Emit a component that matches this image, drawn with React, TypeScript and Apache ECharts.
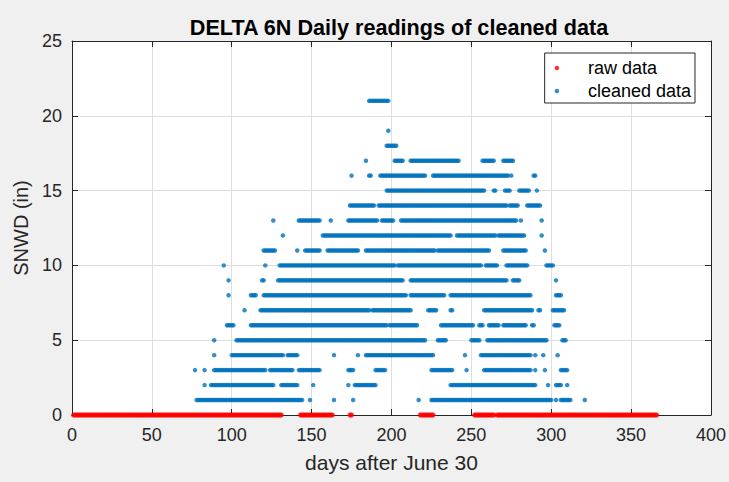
import React, { useEffect, useRef } from "react";
import * as echarts from "echarts";

// Cleaned snow depth readings, read as runs of consecutive days at each depth level:
// [depth (in), first day, last day]
const cleanedRuns: [number, number, number][] = [
  [21, 186, 198],
  [19, 198, 198],
  [18, 197, 203],
  [17, 184, 184], [17, 202, 207], [17, 212, 242], [17, 257, 264], [17, 270, 276],
  [16, 175, 175], [16, 186, 187], [16, 193, 221], [16, 226, 273], [16, 275, 275], [16, 289, 290],
  [15, 197, 258], [15, 264, 265], [15, 271, 274], [15, 280, 286], [15, 291, 291],
  [14, 174, 189], [14, 192, 272], [14, 274, 279], [14, 285, 293],
  [13, 126, 126], [13, 142, 155], [13, 162, 162], [13, 173, 191], [13, 194, 201], [13, 206, 278], [13, 281, 281], [13, 294, 294],
  [12, 132, 132], [12, 157, 237], [12, 241, 265], [12, 267, 283], [12, 294, 294],
  [11, 120, 127], [11, 141, 141], [11, 146, 155], [11, 160, 179], [11, 184, 227], [11, 229, 261], [11, 270, 284], [11, 296, 296],
  [10, 95, 95], [10, 121, 121], [10, 130, 202], [10, 204, 256], [10, 259, 266], [10, 272, 285], [10, 297, 301],
  [9, 98, 98], [9, 119, 120], [9, 129, 207], [9, 212, 272], [9, 276, 280], [9, 303, 303],
  [8, 98, 98], [8, 112, 115], [8, 120, 209], [8, 212, 233], [8, 237, 287], [8, 303, 306],
  [7, 108, 108], [7, 118, 186], [7, 188, 212], [7, 223, 228], [7, 237, 238], [7, 258, 288], [7, 292, 293], [7, 301, 308],
  [6, 97, 101], [6, 112, 197], [6, 199, 216], [6, 231, 251], [6, 255, 257], [6, 261, 267], [6, 270, 284], [6, 288, 289], [6, 302, 305],
  [5, 89, 89], [5, 103, 221], [5, 229, 234], [5, 250, 255], [5, 260, 297], [5, 307, 309],
  [4, 89, 89], [4, 100, 132], [4, 135, 141], [4, 164, 164], [4, 179, 179], [4, 184, 226], [4, 246, 246], [4, 256, 287], [4, 290, 290], [4, 295, 295], [4, 304, 304],
  [3, 77, 77], [3, 83, 83], [3, 89, 121], [3, 124, 138], [3, 142, 155], [3, 173, 176], [3, 190, 196], [3, 225, 238], [3, 247, 247], [3, 258, 287], [3, 290, 290], [3, 296, 296], [3, 306, 310],
  [2, 83, 83], [2, 87, 126], [2, 131, 141], [2, 151, 151], [2, 173, 173], [2, 177, 190], [2, 237, 290], [2, 298, 298], [2, 303, 306], [2, 310, 310],
  [1, 78, 144], [1, 149, 149], [1, 164, 164], [1, 176, 176], [1, 217, 217], [1, 225, 300], [1, 303, 303], [1, 306, 312], [1, 321, 321],
];

// Raw readings visible at zero depth: [depth, first day, last day]
const rawZeroRuns: [number, number, number][] = [
  [0, 1, 131], [0, 143, 163], [0, 174, 175], [0, 218, 226], [0, 252, 264], [0, 266, 366],
];

const seriesNames = ["raw data", "cleaned data"];
const titleText = "DELTA 6N Daily readings of cleaned data";
const xName = "days after June 30";
const yName = "SNWD (in)";

function runsToPoints(runs: [number, number, number][]): [number, number][] {
  const pts: [number, number][] = [];
  for (const [level, from, to] of runs) {
    for (let d = from; d <= to; d++) pts.push([d, level]);
  }
  return pts;
}

const FONT = "'Liberation Sans', Arial, Helvetica, sans-serif";
const AXIS = "#262626";
const GRID = "#dedede";

export default function App() {
  const ref = useRef<HTMLDivElement>(null);
  useEffect(() => {
    if (!ref.current) return;
    const chart = echarts.init(ref.current, undefined, { renderer: "svg" });
    const xCommon = {
      type: "value" as const,
      min: 0,
      max: 400,
      interval: 50,
    };
    const yCommon = {
      type: "value" as const,
      min: 0,
      max: 25,
      interval: 5,
    };
    chart.setOption({
      animation: false,
      backgroundColor: "#f0f0f0",
      textStyle: { fontFamily: FONT },
      title: {
        text: titleText,
        left: 394,
        textAlign: "center",
        top: 11,
        textStyle: { fontFamily: FONT, fontSize: 21.6, fontWeight: "bold", color: "#000" },
      },
      legend: {
        orient: "vertical",
        right: 34,
        top: 53,
        padding: [6, 4, 3, 10],
        itemWidth: 52,
        itemHeight: 4.5,
        itemGap: 5,
        icon: "circle",
        backgroundColor: "#fff",
        borderColor: AXIS,
        borderWidth: 1,
        borderRadius: 0,
        textStyle: { fontFamily: FONT, fontSize: 18, color: "#000", lineHeight: 18 },
        data: seriesNames,
      },
      grid: {
        left: 72,
        right: 15,
        top: 41,
        bottom: 67,
        show: true,
        backgroundColor: "#fff",
        borderWidth: 0,
      },
      xAxis: [
        {
          ...xCommon,
          position: "bottom",
          name: xName,
          nameLocation: "middle",
          nameGap: 37,
          nameTextStyle: { fontFamily: FONT, fontSize: 21, color: AXIS },
          axisLine: { show: true, onZero: false, lineStyle: { color: AXIS, width: 1 } },
          axisTick: { show: true, inside: true, length: 6, lineStyle: { color: AXIS } },
          axisLabel: { margin: 11, fontFamily: FONT, fontSize: 18, color: AXIS },
          splitLine: { show: true, lineStyle: { color: GRID, width: 1 } },
        },
        {
          ...xCommon,
          position: "top",
          axisLine: { show: true, onZero: false, lineStyle: { color: AXIS, width: 1 } },
          axisTick: { show: true, inside: true, length: 6, lineStyle: { color: AXIS } },
          axisLabel: { show: false },
          splitLine: { show: false },
        },
      ],
      yAxis: [
        {
          ...yCommon,
          position: "left",
          name: yName,
          nameLocation: "middle",
          nameRotate: 90,
          nameGap: 41,
          nameTextStyle: { fontFamily: FONT, fontSize: 20, color: AXIS },
          axisLine: { show: true, onZero: false, lineStyle: { color: AXIS, width: 1 } },
          axisTick: { show: true, inside: true, length: 6, lineStyle: { color: AXIS } },
          axisLabel: { margin: 10, fontFamily: FONT, fontSize: 18, color: AXIS },
          splitLine: { show: true, lineStyle: { color: GRID, width: 1 } },
        },
        {
          ...yCommon,
          position: "right",
          axisLine: { show: true, onZero: false, lineStyle: { color: AXIS, width: 1 } },
          axisTick: { show: true, inside: true, length: 6, lineStyle: { color: AXIS } },
          axisLabel: { show: false },
          splitLine: { show: false },
        },
      ],
      series: [
        {
          name: seriesNames[0],
          type: "scatter",
          xAxisIndex: 0,
          yAxisIndex: 0,
          symbol: "circle",
          symbolSize: 5,
          clip: false,
          itemStyle: { color: "#ff0000" },
          data: runsToPoints(rawZeroRuns),
        },
        {
          name: seriesNames[1],
          type: "scatter",
          xAxisIndex: 0,
          yAxisIndex: 0,
          symbol: "circle",
          symbolSize: 4.5,
          clip: false,
          itemStyle: { color: "#0072bd" },
          data: runsToPoints(cleanedRuns),
        },
      ],
    });
    return () => chart.dispose();
  }, []);
  return (
    <div
      ref={ref}
      style={{ position: "fixed", left: 0, top: 0, width: 729, height: 482 }}
    />
  );
}
